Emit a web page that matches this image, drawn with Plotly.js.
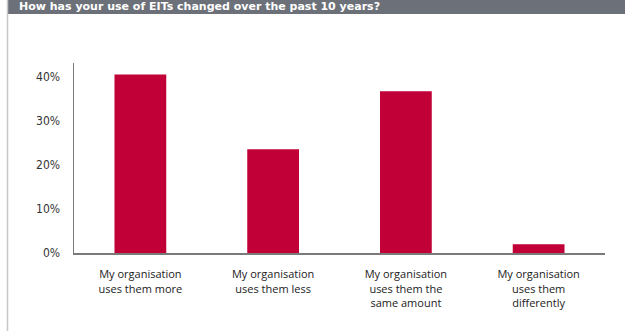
<!DOCTYPE html>
<html>
<head>
<meta charset="utf-8">
<script src="https://cdn.plot.ly/plotly-3.0.1.min.js"></script>
<style>
html,body{margin:0;padding:0;background:#fff;}
#chart{width:625px;height:331px;}
</style>
</head>
<body>
<div id="chart"></div>
<script>
const titleText = "How has your use of EITs changed over the past 10 years?";
const categories = [
  "My organisation<br>uses them more",
  "My organisation<br>uses them less",
  "My organisation<br>uses them the<br>same amount",
  "My organisation<br>uses them<br>differently"
];
const values = [40.6, 23.6, 36.8, 2.0];
const tickVals = [0, 10, 20, 30, 40];
const tickText = ["0%", "10%", "20%", "30%", "40%"];

const W = 625, H = 331;
const mL = 74, mR = 20, mT = 63, mB = 78;
const pw = W - mL - mR, ph = H - mT - mB;
const px = x => (x - mL) / pw;
const py = y => (H - mB - y) / ph;

const trace = {
  type: 'bar',
  x: [0, 1, 2, 3],
  y: values,
  width: 0.39,
  marker: {color: '#c10037'},
  hoverinfo: 'none'
};

const layout = {
  width: W, height: H,
  margin: {l: mL, r: mR, t: mT, b: mB, pad: 0},
  paper_bgcolor: '#fff',
  plot_bgcolor: '#fff',
  showlegend: false,
  xaxis: {
    range: [-0.5, 3.5],
    tickvals: [0, 1, 2, 3],
    ticktext: categories,
    showgrid: false,
    zeroline: false,
    showline: true,
    linecolor: '#7a7a7a',
    linewidth: 2,
    ticks: '',
    ticklabelstandoff: 10,
    tickfont: {family: 'Open Sans, sans-serif', size: 11, color: '#222'},
    fixedrange: true
  },
  yaxis: {
    range: [0, 43.2],
    tickvals: tickVals,
    ticktext: tickText,
    showgrid: false,
    zeroline: false,
    showline: true,
    linecolor: '#7a7a7a',
    linewidth: 1.5,
    ticks: '',
    ticklabelstandoff: 10,
    tickfont: {family: 'DejaVu Sans Condensed, Roboto, sans-serif', size: 12, color: '#333'},
    fixedrange: true
  },
  shapes: [
    {type: 'rect', xref: 'paper', yref: 'paper',
     x0: px(8), x1: px(626), y0: py(14), y1: py(-1),
     fillcolor: '#6c7078', line: {width: 0}, layer: 'above'},
    {type: 'line', xref: 'paper', yref: 'paper',
     x0: px(7.5), x1: px(7.5), y0: py(0), y1: py(332),
     line: {color: '#c8c8c8', width: 1.5}}
  ],
  annotations: [
    {text: '<b>' + titleText + '</b>', xref: 'paper', yref: 'paper',
     x: px(17), y: py(7), xanchor: 'left', yanchor: 'middle',
     showarrow: false,
     font: {family: 'DejaVu Sans, sans-serif', size: 11, color: '#ffffff'}}
  ]
};

Plotly.newPlot('chart', [trace], layout, {displayModeBar: false, staticPlot: true});
</script>
</body>
</html>
